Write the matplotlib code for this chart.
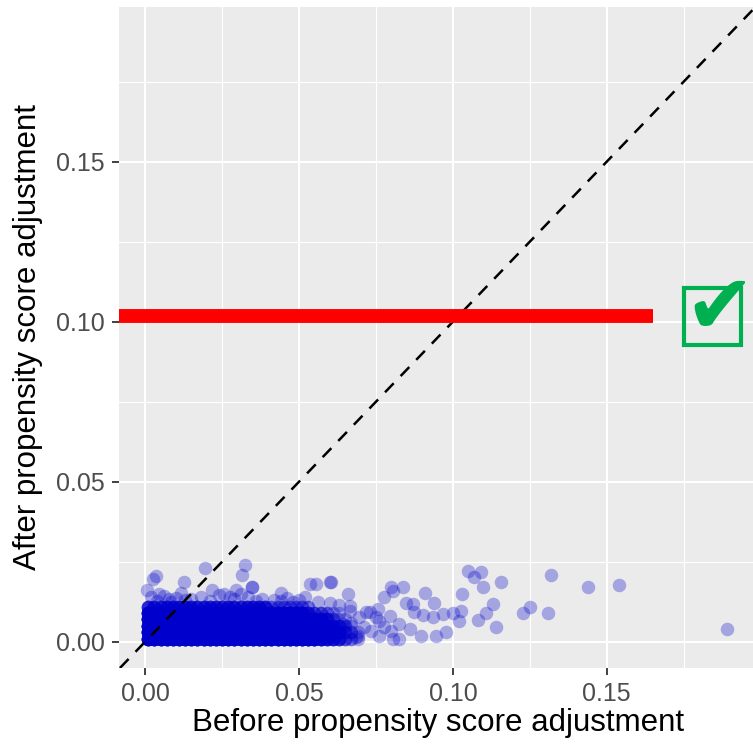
import numpy as np
import matplotlib.pyplot as plt
from matplotlib.patches import Rectangle

plt.rcParams['font.family'] = ['Liberation Sans', 'DejaVu Sans']

# axis ticks
ticks = [0.00, 0.05, 0.10, 0.15]
tick_labels = ["0.00", "0.05", "0.10", "0.15"]
minor_ticks = [0.025, 0.075, 0.125, 0.175]

# dense core of the cloud: bin centres and how many points sit in each bin
core_x = [0.001, 0.003, 0.005, 0.007, 0.009, 0.011, 0.013, 0.015, 0.017, 0.019,
          0.021, 0.023, 0.025, 0.027, 0.029, 0.031, 0.033, 0.035, 0.037, 0.039,
          0.041, 0.043, 0.045, 0.047, 0.049, 0.051, 0.053, 0.055, 0.057, 0.059,
          0.061, 0.063, 0.065, 0.067, 0.069]
core_y = [0.001, 0.003, 0.005, 0.007, 0.009, 0.011]
core_counts = [
    [12]*28 + [9, 7, 6, 5] + [3, 2, 1],
    [12]*28 + [9, 7, 6, 5] + [3, 2, 1],
    [12]*28 + [8, 6, 5, 4] + [2, 1, 0],
    [12]*26 + [7, 6, 5, 4] + [2, 1, 1, 0, 0],
    [10]*26 + [4, 3, 3, 2] + [1, 1, 0, 0, 0],
    [5]*20 + [2]*7 + [0]*8,
]

# sparse points outside the core (before, after)
before = [0.0035, 0.0024, 0.0195, 0.0325, 0.0316, 0.0347, 0.0347, 0.0127, 0.0007, 0.0046,
          0.0218, 0.0257, 0.0295, 0.0441, 0.0534, 0.0555, 0.0078, 0.0116, 0.0604, 0.0600,
          0.0658, 0.0799, 0.0837, 0.0777, 0.0805, 0.0908, 0.0848, 0.0870, 0.0875, 0.0902,
          0.0940, 0.0967, 0.0935, 0.1000, 0.1027, 0.1021, 0.1030, 0.1049, 0.1070, 0.1092,
          0.1097, 0.1130, 0.1108, 0.1081, 0.1141, 0.0859, 0.0826, 0.0897, 0.0946, 0.0978,
          0.0826, 0.0777, 0.0761, 0.0794, 0.0756, 0.0718, 0.1157, 0.1318, 0.1439, 0.1540,
          0.1249, 0.1227, 0.1309, 0.1889, 0.0643, 0.0685, 0.0664, 0.0664, 0.0696, 0.0729,
          0.0750, 0.0735, 0.0761, 0.0799, 0.0805, 0.0691, 0.0712, 0.0668,
          0.0020, 0.0060, 0.0100, 0.0150, 0.0180, 0.0240, 0.0275, 0.0310, 0.0335, 0.0380,
          0.0420, 0.0460, 0.0500, 0.0520, 0.0560, 0.0600, 0.0630,
          0.0040, 0.0085, 0.0130, 0.0210, 0.0290, 0.0360, 0.0440, 0.0480]
after = [0.0206, 0.0197, 0.0231, 0.0241, 0.0209, 0.0170, 0.0170, 0.0188, 0.0162, 0.0150,
         0.0162, 0.0150, 0.0162, 0.0151, 0.0180, 0.0180, 0.0135, 0.0151, 0.0188, 0.0186,
         0.0149, 0.0170, 0.0170, 0.0139, 0.0159, 0.0151, 0.0120, 0.0118, 0.0092, 0.0084,
         0.0120, 0.0086, 0.0076, 0.0089, 0.0097, 0.0066, 0.0149, 0.0220, 0.0201, 0.0217,
         0.0170, 0.0118, 0.0089, 0.0068, 0.0047, 0.0040, 0.0008, 0.0019, 0.0019, 0.0029,
         0.0055, 0.0045, 0.0066, 0.0081, 0.0102, 0.0092, 0.0188, 0.0208, 0.0170, 0.0178,
         0.0109, 0.0089, 0.0089, 0.0040, 0.0056, 0.0014, 0.0097, 0.0113, 0.0076, 0.0092,
         0.0076, 0.0034, 0.0019, 0.0034, 0.0008, 0.0019, 0.0045, 0.0060,
         0.0140, 0.0142, 0.0138, 0.0135, 0.0140, 0.0145, 0.0140, 0.0150, 0.0140, 0.0135,
         0.0130, 0.0138, 0.0130, 0.0140, 0.0125, 0.0120, 0.0115,
         0.0128, 0.0125, 0.0130, 0.0128, 0.0132, 0.0126, 0.0128, 0.0124]

# red threshold bar drawn over the chart
threshold = 0.1018
threshold_end = 0.165

lim_x = (-0.0085, 0.1975)
lim_y = (-0.0082, 0.1983)

cx, cy = np.meshgrid(core_x, core_y)
counts = np.array(core_counts)
xs = np.concatenate([np.repeat(cx.ravel(), counts.ravel()), before])
ys = np.concatenate([np.repeat(cy.ravel(), counts.ravel()), after])

fig = plt.figure(figsize=(7.53, 7.46), dpi=100)
ax = fig.add_axes([119/753, 1 - 668/746, 634/753, 661/746])
ax.set_facecolor('#EBEBEB')
for s in ax.spines.values():
    s.set_visible(False)

ax.set_xticks(ticks)
ax.set_xticklabels(tick_labels)
ax.set_yticks(ticks)
ax.set_yticklabels(tick_labels)
ax.set_xticks(minor_ticks, minor=True)
ax.set_yticks(minor_ticks, minor=True)
ax.grid(which='major', color='white', linewidth=1.5)
ax.grid(which='minor', color='white', linewidth=0.8)
ax.set_axisbelow(True)
ax.tick_params(which='major', length=5, width=1.3, color='#333333',
               labelcolor='#4D4D4D', labelsize=18, pad=5)
ax.tick_params(which='minor', length=0)

ax.scatter(xs, ys, s=95, color='#0000CD', alpha=0.3, linewidths=0, zorder=2)
ax.axline((0, 0), slope=1, color='black', linewidth=1.8, linestyle=(0, (5, 4)), zorder=3)

ax.set_xlim(lim_x)
ax.set_ylim(lim_y)

ax.plot([lim_x[0], threshold_end], [threshold, threshold], color='#FF0000',
        linewidth=10, solid_capstyle='butt', zorder=4)

ax.add_patch(Rectangle((0.1752, 0.0926), 0.0184, 0.0180, fill=False,
                       edgecolor='#00B050', linewidth=3, zorder=5, clip_on=False))
ax.text(0.1864, 0.1037, '\u2714', color='#00B050', fontsize=60, ha='center',
        va='center', family='DejaVu Sans', zorder=6, clip_on=False)

ax.set_xlabel('Before propensity score adjustment', fontsize=22.5)
ax.set_ylabel('After propensity score adjustment', fontsize=22.5)
ax.xaxis.set_label_coords(0.503, -0.06)
ax.yaxis.set_label_coords(-0.12, 0.5)

fig.savefig('out.png', dpi=100)
